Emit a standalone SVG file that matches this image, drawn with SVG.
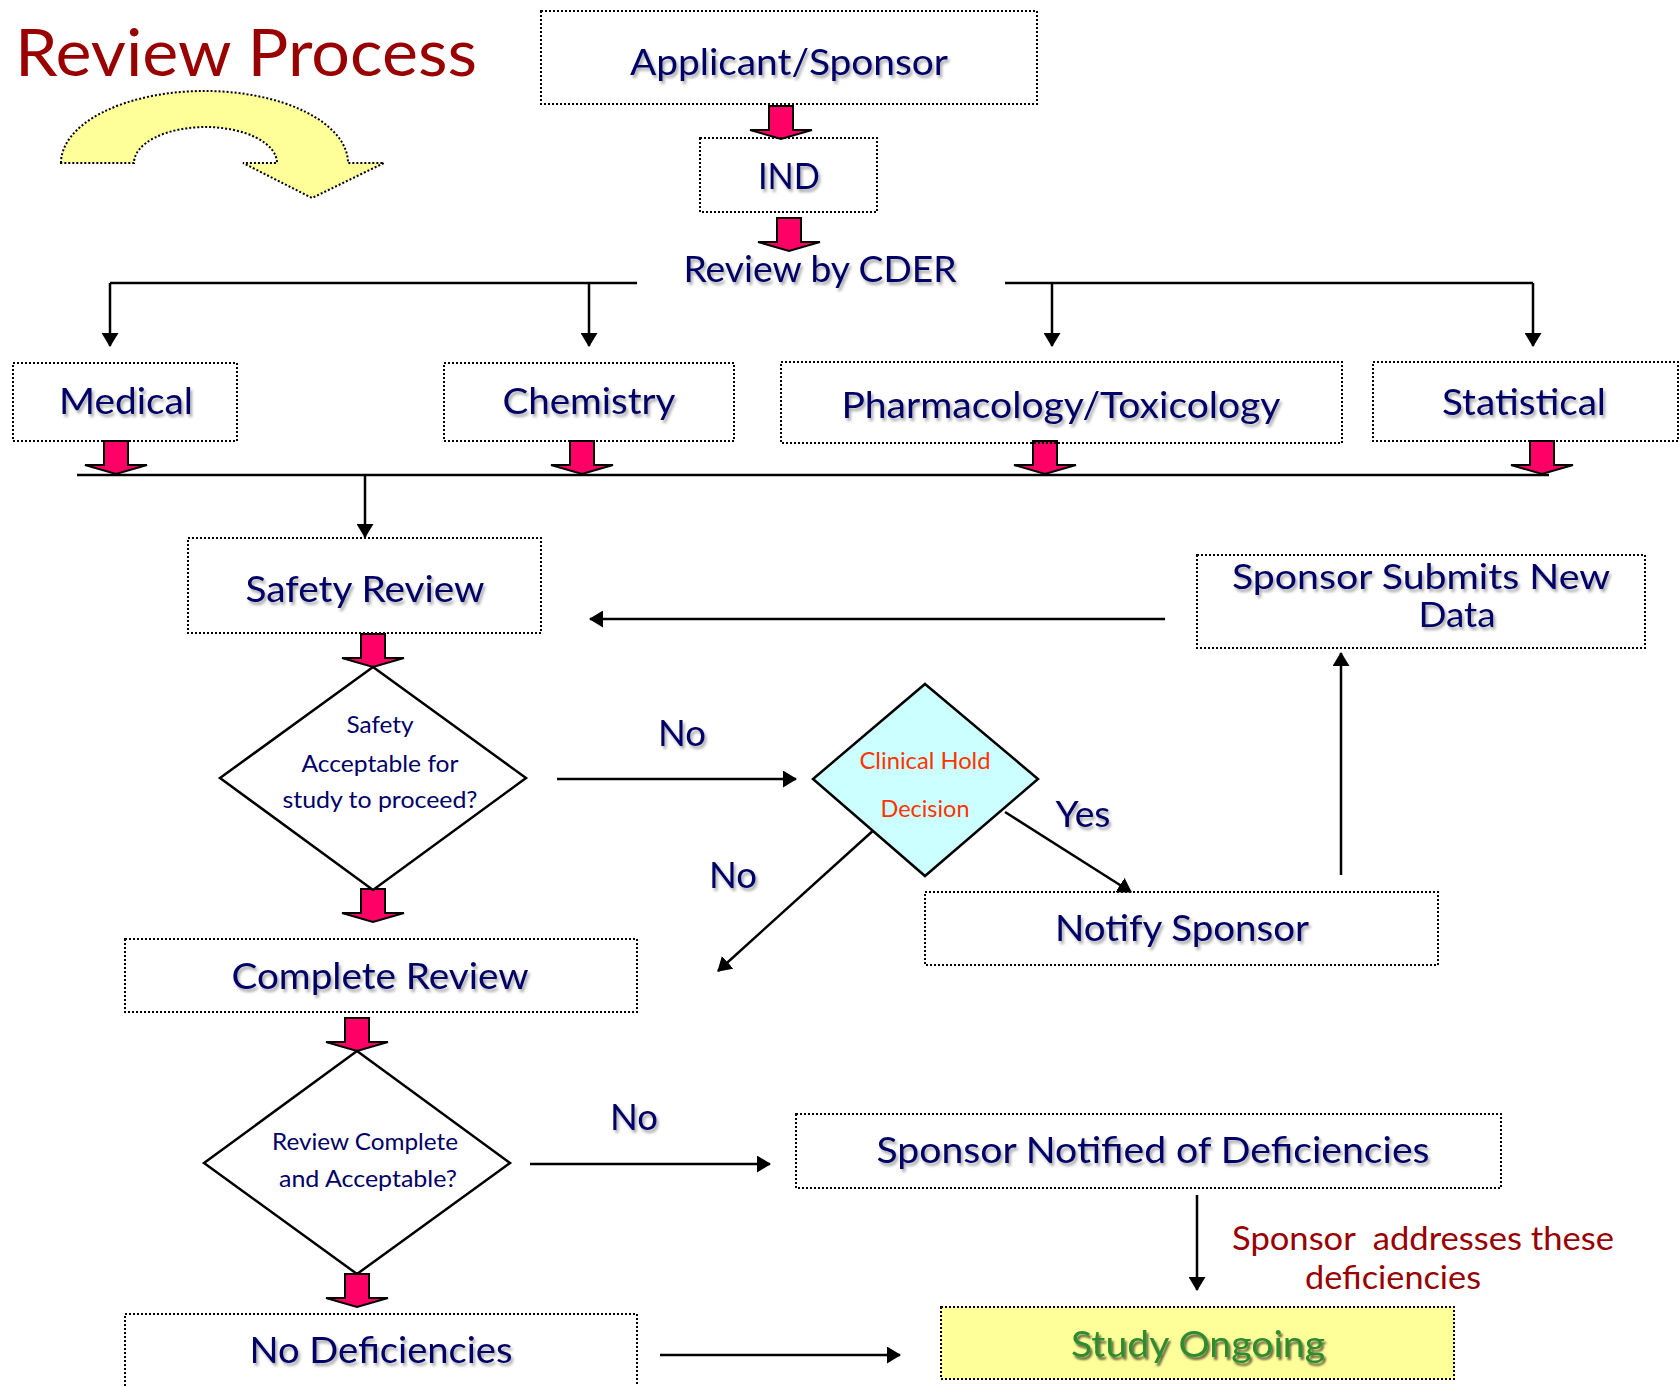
<svg xmlns="http://www.w3.org/2000/svg" width="1680" height="1386" viewBox="0 0 1680 1386">
<defs>
<style>
.box{fill:none;stroke:#000;stroke-width:2;stroke-dasharray:2 2}
.lbl{font-family:Lato,"Open Sans",sans-serif;font-size:37px;fill:#000066;text-anchor:middle;filter:url(#sh)}
.dtx{font-family:Lato,"Open Sans",sans-serif;font-size:23px;fill:#000066;text-anchor:middle}
.ctx{font-family:Lato,"Open Sans",sans-serif;font-size:23px;fill:#FF3300;text-anchor:middle}
.red{font-family:Lato,"Open Sans",sans-serif;font-size:33px;fill:#990000;white-space:pre}
.dia{fill:#fff;stroke:#000;stroke-width:2.5}
.con{fill:none;stroke:#000;stroke-width:2.5}
.arr{marker-end:url(#ah)}
.pink{fill:#FF0066;stroke:#000;stroke-width:2}
</style>
<filter id="sh" x="-10%" y="-30%" width="120%" height="160%">
<feDropShadow dx="2" dy="3" stdDeviation="1.5" flood-color="#000" flood-opacity="0.35"/>
</filter>
<filter id="sh2" x="-10%" y="-30%" width="120%" height="160%">
<feDropShadow dx="2" dy="3" stdDeviation="1.2" flood-color="#000" flood-opacity="0.6"/>
</filter>
<marker id="ah" viewBox="0 0 14 17" refX="13" refY="8.5" markerWidth="14" markerHeight="17" markerUnits="userSpaceOnUse" orient="auto">
<path d="M0,0 L14,8.5 L0,17 z" fill="#000"/>
</marker>
<path id="pa" class="pink" d="M-12,-33 H12 V-9 H31 L0,0 L-31,-9 H-12 Z"/>
</defs>

<g id="title">
<text x="15" y="76" style="font-family:Lato,'Open Sans',sans-serif;font-size:66px;fill:#990000" textLength="462" lengthAdjust="spacingAndGlyphs">Review Process</text>
<path d="M61,163 A143.5,72 0 0 1 348,163 L384,163 L312,198 L243,163 L277,163 A71.5,36 0 0 0 134,163 Z" fill="#FFFF99" stroke="#000" stroke-width="2" stroke-dasharray="2 2"/>
</g>

<g id="connectors">
<path class="con" d="M110,283 H637 M1005,283 H1533 M77,475 H1549"/>
<path class="con arr" d="M110,283 V346"/>
<path class="con arr" d="M589,283 V346"/>
<path class="con arr" d="M1052,283 V346"/>
<path class="con arr" d="M1533,283 V346"/>
<path class="con arr" d="M365,475 V537"/>
<path class="con arr" d="M1165,619 H590"/>
<path class="con arr" d="M557,779 H796"/>
<path class="con arr" d="M1005,812 L1131,892"/>
<path class="con arr" d="M876,828 L718,971"/>
<path class="con arr" d="M1341,875 V653"/>
<path class="con arr" d="M530,1164 H770"/>
<path class="con arr" d="M1197,1195 V1290"/>
<path class="con arr" d="M660,1355 H900"/>
<use href="#pa" x="781" y="139"/>
<use href="#pa" x="789" y="251"/>
<use href="#pa" x="116" y="474"/>
<use href="#pa" x="582" y="474"/>
<use href="#pa" x="1045" y="474"/>
<use href="#pa" x="1542" y="474"/>
<use href="#pa" x="373" y="667"/>
<use href="#pa" x="373" y="922"/>
<use href="#pa" x="357" y="1051"/>
<use href="#pa" x="357" y="1307"/>
</g>

<g id="applicant">
<rect class="box" x="541" y="11" width="496" height="93"/>
<text class="lbl" x="789" y="75" textLength="318" lengthAdjust="spacingAndGlyphs">Applicant/Sponsor</text>
</g>
<g id="ind">
<rect class="box" x="700" y="138" width="177" height="74"/>
<text class="lbl" x="789" y="189" textLength="62" lengthAdjust="spacingAndGlyphs">IND</text>
</g>
<g id="cder">
<text class="lbl" x="820" y="282" textLength="273" lengthAdjust="spacingAndGlyphs">Review by CDER</text>
</g>
<g id="medical">
<rect class="box" x="13" y="363" width="224" height="78"/>
<text class="lbl" x="126" y="414" textLength="134" lengthAdjust="spacingAndGlyphs">Medical</text>
</g>
<g id="chemistry">
<rect class="box" x="444" y="363" width="290" height="78"/>
<text class="lbl" x="589" y="414" textLength="173" lengthAdjust="spacingAndGlyphs">Chemistry</text>
</g>
<g id="pharmtox">
<rect class="box" x="781" y="362" width="561" height="81"/>
<text class="lbl" x="1061" y="418" textLength="439" lengthAdjust="spacingAndGlyphs">Pharmacology/Toxicology</text>
</g>
<g id="statistical">
<rect class="box" x="1373" y="362" width="305" height="79"/>
<text class="lbl" x="1524" y="415" textLength="164" lengthAdjust="spacingAndGlyphs">Statistical</text>
</g>
<g id="safety-review">
<rect class="box" x="188" y="538" width="353" height="95"/>
<text class="lbl" x="365" y="602" textLength="239" lengthAdjust="spacingAndGlyphs">Safety Review</text>
</g>
<g id="sponsor-submits">
<rect class="box" x="1197" y="555" width="448" height="93"/>
<text class="lbl" x="1421" y="589" textLength="378" lengthAdjust="spacingAndGlyphs" style="font-size:35px">Sponsor Submits New</text>
<text class="lbl" x="1457" y="627" textLength="77" lengthAdjust="spacingAndGlyphs" style="font-size:35px">Data</text>
</g>
<g id="safety-decision">
<polygon class="dia" points="373,667 526,778 373,890 220,778"/>
<text class="dtx" x="380" y="733" textLength="67" lengthAdjust="spacingAndGlyphs">Safety</text>
<text class="dtx" x="380" y="772" textLength="157" lengthAdjust="spacingAndGlyphs">Acceptable for</text>
<text class="dtx" x="380" y="808" textLength="195" lengthAdjust="spacingAndGlyphs">study to proceed?</text>
</g>
<g id="clinical-hold">
<polygon points="925,684 1038,779 925,876 813,779" fill="#CCFFFF" stroke="#000" stroke-width="2.5"/>
<text class="ctx" x="925" y="769" textLength="131" lengthAdjust="spacingAndGlyphs">Clinical Hold</text>
<text class="ctx" x="925" y="817" textLength="89" lengthAdjust="spacingAndGlyphs">Decision</text>
</g>
<g id="labels">
<text class="lbl" x="682" y="746" textLength="48" lengthAdjust="spacingAndGlyphs">No</text>
<text class="lbl" x="1083" y="827" textLength="55" lengthAdjust="spacingAndGlyphs">Yes</text>
<text class="lbl" x="733" y="888" textLength="48" lengthAdjust="spacingAndGlyphs">No</text>
<text class="lbl" x="634" y="1130" textLength="48" lengthAdjust="spacingAndGlyphs">No</text>
</g>
<g id="notify-sponsor">
<rect class="box" x="925" y="892" width="513" height="73"/>
<text class="lbl" x="1182" y="941" textLength="254" lengthAdjust="spacingAndGlyphs">Notify Sponsor</text>
</g>
<g id="complete-review">
<rect class="box" x="125" y="939" width="512" height="73"/>
<text class="lbl" x="380" y="989" textLength="297" lengthAdjust="spacingAndGlyphs">Complete Review</text>
</g>
<g id="review-decision">
<polygon class="dia" points="357,1051 510,1163 357,1274 204,1163"/>
<text class="dtx" x="365" y="1150" textLength="186" lengthAdjust="spacingAndGlyphs">Review Complete</text>
<text class="dtx" x="368" y="1187" textLength="178" lengthAdjust="spacingAndGlyphs">and Acceptable?</text>
</g>
<g id="sponsor-notified">
<rect class="box" x="796" y="1114" width="705" height="74"/>
<text class="lbl" x="1153" y="1163" textLength="553" lengthAdjust="spacingAndGlyphs">Sponsor Notified of Deficiencies</text>
</g>
<g id="addresses-note">
<text class="red" x="1232" y="1250" textLength="382" lengthAdjust="spacingAndGlyphs">Sponsor  addresses these</text>
<text class="red" x="1305" y="1289" textLength="176" lengthAdjust="spacingAndGlyphs">deficiencies</text>
</g>
<g id="no-deficiencies">
<rect class="box" x="125" y="1314" width="512" height="80"/>
<text class="lbl" x="381" y="1363" textLength="263" lengthAdjust="spacingAndGlyphs">No Deficiencies</text>
</g>
<g id="study-ongoing">
<rect x="941" y="1307" width="513" height="72" fill="#FFFF99" stroke="#000" stroke-width="2" stroke-dasharray="2 2"/>
<text class="lbl" x="1198" y="1357" textLength="254" lengthAdjust="spacingAndGlyphs" style="fill:#2E8B2E;filter:url(#sh2)">Study Ongoing</text>
</g>
</svg>
